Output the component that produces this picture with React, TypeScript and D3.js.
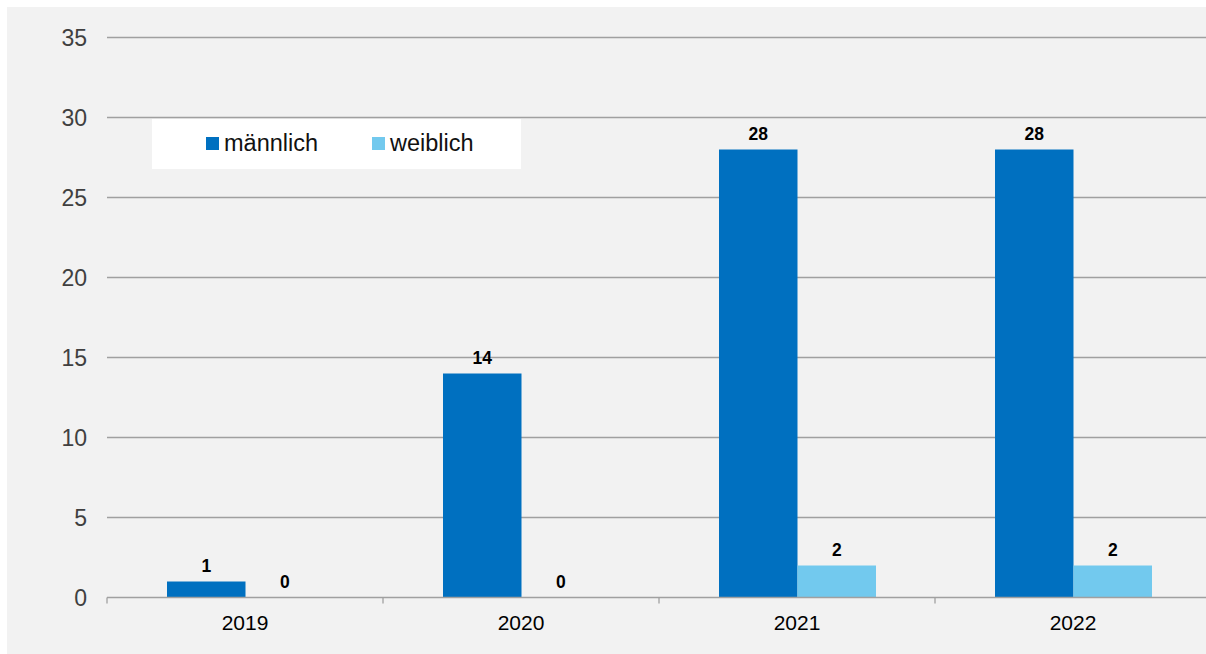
import * as React from 'react';
import * as d3 from 'd3';

const years = ['2019', '2020', '2021', '2022'];
const series = ['männlich', 'weiblich'];
const maleValues = [1, 14, 28, 28];
const femaleValues = [0, 0, 2, 2];
const yTicks = [0, 5, 10, 15, 20, 25, 30, 35];

const colors: Record<string, string> = {
  männlich: '#0070c0',
  weiblich: '#72c9ee',
};

const dimensions = { width: 1206, height: 654 };
const margin = { top: 37.5, left: 107, right: 0, bottom: 56.5 };
const font = '"Liberation Sans", Arial, sans-serif';

const App: React.FC = () => {
  const x = d3.scaleBand(years, [margin.left, margin.left + 4 * 276]);
  const xs = d3.scaleBand(series, [60, 60 + 2 * 78.5]);
  const y = d3.scaleLinear([0, 35], [dimensions.height - margin.bottom, margin.top]);

  const rows = years.map((year, i) => ({
    year,
    values: [
      { key: series[0], value: maleValues[i] },
      { key: series[1], value: femaleValues[i] },
    ],
  }));

  const legendX = d3.scalePoint(series, [206, 372]);

  return (
    <svg
      width={dimensions.width}
      height={dimensions.height}
      viewBox={`0 0 ${dimensions.width} ${dimensions.height}`}
      style={{ position: 'absolute', left: 0, top: 0, display: 'block', fontFamily: font }}
    >
      <rect x={7} y={7} width={dimensions.width - 7} height={dimensions.height - 7} fill="#f2f2f2" />

      {/* grid + y labels */}
      <g>
        {yTicks.map((t) => (
          <g key={t}>
            {t > 0 && (
              <line x1={margin.left} x2={dimensions.width} y1={y(t)} y2={y(t)} stroke="#a0a0a0" strokeWidth={1.3} />
            )}
            <text x={87} y={y(t)} dy="0.36em" textAnchor="end" fontSize={23} fill="#404040">
              {t}
            </text>
          </g>
        ))}
      </g>

      {/* bars */}
      <g>
        {rows.map((r) =>
          r.values.map((v) => (
            <rect
              key={r.year + v.key}
              x={(x(r.year) ?? 0) + (xs(v.key) ?? 0)}
              y={y(v.value)}
              width={xs.bandwidth()}
              height={y(0) - y(v.value)}
              fill={colors[v.key]}
            />
          ))
        )}
      </g>

      {/* value labels */}
      <g>
        {rows.map((r) =>
          r.values.map((v) => (
            <text
              key={r.year + v.key}
              x={(x(r.year) ?? 0) + (xs(v.key) ?? 0) + xs.bandwidth() / 2}
              y={y(v.value) - 10}
              textAnchor="middle"
              fontSize={17.5}
              fontWeight="bold"
              fill="#000"
            >
              {v.value}
            </text>
          ))
        )}
      </g>

      {/* x axis */}
      <g>
        <line x1={margin.left} x2={dimensions.width} y1={y(0)} y2={y(0)} stroke="#a0a0a0" strokeWidth={1.3} />
        {years.map((yr) => (
          <line key={yr} x1={x(yr)} x2={x(yr)} y1={y(0)} y2={y(0) + 6} stroke="#a0a0a0" strokeWidth={1.3} />
        ))}
        {years.map((yr) => (
          <text
            key={yr}
            x={(x(yr) ?? 0) + x.bandwidth() / 2}
            y={630}
            textAnchor="middle"
            fontSize={21}
            fill="#000"
          >
            {yr}
          </text>
        ))}
      </g>

      {/* legend */}
      <g>
        <rect x={152} y={119} width={369} height={50} fill="#ffffff" />
        {series.map((s) => (
          <g key={s} transform={`translate(${legendX(s)},0)`}>
            <rect x={0} y={137} width={13} height={13} fill={colors[s]} />
            <text x={18} y={151} fontSize={23.5} fill="#111">
              {s}
            </text>
          </g>
        ))}
      </g>
    </svg>
  );
};

export default App;
